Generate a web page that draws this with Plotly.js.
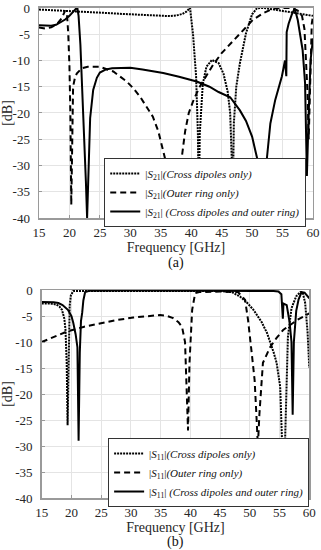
<!DOCTYPE html>
<html>
<head>
<meta charset="utf-8">
<script src="https://cdn.plot.ly/plotly-3.0.1.min.js"></script>
<style>html,body{margin:0;padding:0;background:#fff;}#chart{width:321px;height:550px;}</style>
</head>
<body>
<div id="chart"></div>
<script>
// ---------- (a) |S21| ----------
const s21DipFreq = [15, 17, 20, 23, 26, 29, 32, 35, 36.5, 37.5, 38.5, 39.2, 39.8, 40.3, 40.8, 41.1, 41.25, 41.4, 41.9, 42.5, 43.4, 44.5, 45.3, 46.0, 46.4, 46.7, 46.8, 47.0, 47.4, 48.0, 49.0, 50.0, 50.8, 52, 53.5, 55, 57, 58.5, 60];
const s21DipVal  = [-0.3, -0.4, -0.55, -0.75, -0.95, -1.15, -1.35, -1.55, -1.55, -1.45, -1.15, -0.7, 0, -5, -13, -24, -40, -24, -14.5, -11.2, -9.9, -10.5, -12.5, -16, -20, -30, -40, -22, -15, -10.5, -4.8, -1.2, -0.05, 0, -0.3, -0.5, -0.9, -1.2, -1.5];

const s21RingFreq = [15, 16, 17, 18, 18.7, 19.3, 19.6, 19.8, 20.0, 20.15, 20.3, 20.45, 20.6, 20.9, 21.2, 22, 23, 25, 27.2, 29.4, 30.5, 31.6, 32.7, 33.7, 34.6, 35.4, 36.2, 36.8, 37.2, 37.6, 38.0, 38.5, 39.0, 39.6, 40.4, 41.4, 42.5, 43.6, 45.0, 46.4, 48.5, 50.1, 51.8, 53.5, 55, 56.5, 57.5, 58.2, 58.6, 58.9, 59.1, 59.3, 59.6, 59.8, 60];
const s21RingVal  = [-3.7, -3.9, -3.7, -3.0, -2.0, -0.5, -1.2, -4.8, -11, -20, -37.5, -22, -15, -13.3, -12.5, -11.5, -11.2, -11.2, -12.1, -14, -15.3, -16.9, -18.8, -20.7, -23.5, -27, -31, -37, -40, -37, -32, -28, -23.5, -20, -17.5, -15, -13, -10.8, -8.6, -6.9, -4.2, -2.3, -1, -0.1, 0, 0, -0.5, -1.5, -4, -10, -16, -25, -8, -3, -1.5];

const s21BothFreq = [15, 16, 17, 17.8, 18.5, 19.3, 20, 20.6, 21.1, 21.3, 21.5, 21.8, 22.1, 22.4, 22.7, 22.9, 23.1, 23.4, 23.9, 24.5, 25, 26, 27, 28.5, 30, 32, 35.4, 38, 40.9, 43, 44.5, 46.4, 48, 49, 50, 50.9, 51.5, 51.8, 52.1, 52.4, 53.0, 53.8, 54.9, 55.4, 55.55, 55.62, 55.68, 56, 56.5, 57, 57.5, 58, 58.3, 58.7, 59.0, 59.3, 59.6, 60];
const s21BothVal  = [-3.3, -3.4, -3.4, -3.2, -2.8, -2.2, -1.5, -0.7, -0.1, 0, -1.5, -7, -15, -25, -33, -40, -30, -21, -15.6, -13.3, -12.3, -11.7, -11.5, -11.4, -11.4, -11.7, -12.4, -13.1, -14, -15, -16, -17, -19.5, -21.5, -24.5, -29, -38, -40, -38, -29, -22, -17.5, -13, -10, -12.8, -13, -4.6, -3, -1.3, -0.1, -2.3, -6, -8, -14.3, -32, -20, -10, -5.8];

// ---------- (b) |S11| ----------
const s11DipFreq = [15, 16.5, 17.5, 18.0, 18.4, 18.8, 19.0, 19.2, 19.35, 19.5, 19.7, 19.9, 20.3, 22, 30, 40, 45, 47, 48.4, 49.5, 50.6, 52, 52.9, 54, 54.5, 55.1, 55.4, 55.7, 55.9, 56.2, 56.4, 57, 57.8, 58.5, 58.9, 59.3, 59.7, 60];
const s11DipVal  = [-2.6, -2.6, -2.8, -3.2, -3.8, -5.5, -7.7, -14, -26, -12, -3, -1.0, -0.2, -0.2, -0.2, -0.2, -0.2, -0.4, -1.3, -2.4, -3.8, -6.2, -8.3, -12, -14, -18.6, -27.5, -39, -30, -15, -9, -3.5, -1.2, -0.4, -0.5, -2.5, -8, -15];

const s11RingFreq = [15, 17, 19.2, 22, 24.8, 27.5, 30.4, 33, 34.9, 36, 37.1, 38, 38.6, 39.1, 39.35, 39.6, 39.85, 40.3, 40.8, 41.5, 45, 47, 48, 49.2, 49.7, 50.3, 50.8, 51.1, 51.35, 51.6, 51.9, 52.2, 53.4, 54.5, 55.6, 57.9, 60];
const s11RingVal  = [-10, -9, -8, -7.1, -6.4, -5.8, -5.3, -4.95, -4.8, -4.95, -5.4, -6.2, -7.1, -10, -17, -27, -14, -3.8, -0.6, -0.4, -0.3, -0.3, -0.4, -1.9, -5.8, -12, -17.3, -24, -30, -24, -18, -14, -11, -9.2, -7.7, -5.8, -4.5];

const s11BothFreq = [15, 16, 17, 17.8, 18.5, 19.4, 20.0, 20.3, 20.7, 21.0, 21.2, 21.4, 21.6, 21.8, 22.0, 22.3, 23, 30, 40, 50, 54, 54.8, 55.3, 55.55, 55.65, 56.2, 56.7, 57.0, 57.2, 57.4, 57.8, 58.2, 58.7, 59.2, 60];
const s11BothVal  = [-2.3, -2.3, -2.35, -2.5, -2.9, -3.8, -5, -6.3, -8.5, -11, -29, -12, -6, -4.4, -2, -0.4, -0.15, -0.1, -0.1, -0.1, -0.2, -0.3, -0.8, -5.5, -2.6, -2.9, -6.3, -10, -24, -10, -4, -1.8, -0.4, -0.5, -1.6];

// axis ticks
const xTicks = [15, 20, 25, 30, 35, 40, 45, 50, 55, 60];
const yTicks = [0, -5, -10, -15, -20, -25, -30, -35, -40];
const yTickText = ['0', '-5', '-10', '-15', '-20', '-25', '-30', '-35', '-40'];

const names21 = [
  '|<i>S</i><sub>21</sub>|<i>(Cross dipoles only)</i>',
  '|<i>S</i><sub>21</sub>|<i>(Outer ring only)</i>',
  '|<i>S</i><sub>21</sub>| <i>(Cross dipoles and outer ring)</i>'
];
const names11 = [
  '|<i>S</i><sub>11</sub>|<i>(Cross dipoles only)</i>',
  '|<i>S</i><sub>11</sub>|<i>(Outer ring only)</i>',
  '|<i>S</i><sub>11</sub>| <i>(Cross dipoles and outer ring)</i>'
];

const FONT = 'Times New Roman';
const dotLine = {color: '#000', width: 2, dash: '2px,1px'};
const dashLine = {color: '#000', width: 2, dash: '6px,4px'};
const solidLine = {color: '#000', width: 2};

const traces = [
  {x: s21DipFreq, y: s21DipVal, name: names21[0], line: dotLine, xaxis: 'x', yaxis: 'y', legend: 'legend'},
  {x: s21RingFreq, y: s21RingVal, name: names21[1], line: dashLine, xaxis: 'x', yaxis: 'y', legend: 'legend'},
  {x: s21BothFreq, y: s21BothVal, name: names21[2], line: solidLine, xaxis: 'x', yaxis: 'y', legend: 'legend'},
  {x: s11DipFreq, y: s11DipVal, name: names11[0], line: dotLine, xaxis: 'x2', yaxis: 'y2', legend: 'legend2'},
  {x: s11RingFreq, y: s11RingVal, name: names11[1], line: dashLine, xaxis: 'x2', yaxis: 'y2', legend: 'legend2'},
  {x: s11BothFreq, y: s11BothVal, name: names11[2], line: solidLine, xaxis: 'x2', yaxis: 'y2', legend: 'legend2'}
].map(t => Object.assign({type: 'scatter', mode: 'lines', hoverinfo: 'skip'}, t));

function xAxis(domain, anchor) {
  return {
    domain: domain, anchor: anchor, range: [15, 60], automargin: false,
    tickvals: xTicks, ticks: 'inside', ticklen: 3, tickcolor: '#999',
    showgrid: true, gridcolor: '#e4e4e4', gridwidth: 1, zeroline: false,
    showline: true, mirror: true, linecolor: '#9a9a9a', linewidth: 1.5,
    tickfont: {family: FONT, size: 13, color: '#262626'}, ticklabelstandoff: 2,
    title: {text: 'Frequency [GHz]', font: {family: FONT, size: 14, color: '#262626'}, standoff: 3}
  };
}
function yAxis(domain, anchor) {
  return {
    domain: domain, anchor: anchor, range: [-40, 0], automargin: false,
    tickvals: yTicks, ticktext: yTickText, ticks: 'inside', ticklen: 3, tickcolor: '#999',
    showgrid: true, gridcolor: '#e4e4e4', gridwidth: 1, zeroline: false,
    showline: true, mirror: true, linecolor: '#9a9a9a', linewidth: 1.5,
    tickfont: {family: FONT, size: 13, color: '#262626'}, ticklabelstandoff: 5,
    title: {text: '[dB]', font: {family: FONT, size: 14, color: '#262626'}, standoff: 4}
  };
}
function legendBox(x, y) {
  return {
    x: x, y: y, xanchor: 'right', yanchor: 'top', xref: 'paper', yref: 'paper',
    bgcolor: '#fff', bordercolor: '#333', borderwidth: 1,
    font: {family: FONT, size: 11, color: '#111'}, itemwidth: 30, tracegroupgap: 0
  };
}

const layout = {
  width: 321, height: 550,
  margin: {l: 0, r: 0, t: 0, b: 0},
  paper_bgcolor: '#fff', plot_bgcolor: '#fff',
  showlegend: true, hovermode: false,
  xaxis: xAxis([0.1215, 0.975], 'y'),
  yaxis: yAxis([0.6036, 0.9855], 'x'),
  xaxis2: xAxis([0.130, 0.9636], 'y2'),
  yaxis2: yAxis([0.0945, 0.4727], 'x2'),
  legend: legendBox(0.954, 0.7127),
  legend2: legendBox(0.963, 0.2036),
  annotations: [
    {text: '(a)', x: 0.548, y: 0.5218, xref: 'paper', yref: 'paper', showarrow: false, xanchor: 'center', yanchor: 'middle', font: {family: FONT, size: 14, color: '#111'}},
    {text: '(b)', x: 0.547, y: 0.0146, xref: 'paper', yref: 'paper', showarrow: false, xanchor: 'center', yanchor: 'middle', font: {family: FONT, size: 14, color: '#111'}}
  ]
};

Plotly.newPlot('chart', traces, layout, {staticPlot: true, displayModeBar: false});
</script>
</body>
</html>
